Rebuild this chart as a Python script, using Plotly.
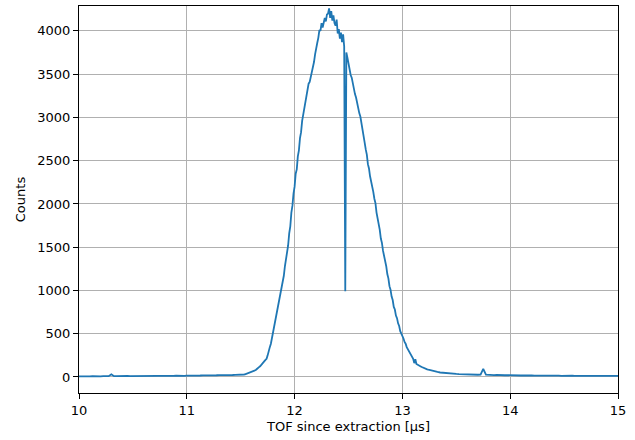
import numpy as np
import plotly.graph_objects as go

# Left tail: 10.000 .. 11.475 step 0.025
left_counts = [8, 6, 9, 7, 8, 10, 7, 9, 8, 11, 9, 10, 32, 10, 9, 11, 10, 8, 12, 10,
               11, 9, 12, 11, 13, 10, 12, 14, 11, 13, 12, 14, 13, 15, 12, 14, 15, 13, 16, 14,
               16, 15, 17, 16, 18, 17, 19, 18, 20, 19, 21, 20, 22, 21, 23, 22, 24, 23, 25, 24]

# Peak region: 11.50 .. 13.29 step 0.01
peak_counts = [22, 26, 24, 29, 30, 35, 34, 41, 44, 50,
               54, 62, 66, 76, 81, 92, 99, 114, 124, 142,
               153, 172, 183, 198, 210, 250, 285, 345, 385, 450,
               495, 565, 615, 690, 740, 815, 865, 940, 995, 1095,
               1170, 1280, 1350, 1460, 1520, 1660, 1740, 1900, 1980, 2120,
               2200, 2350, 2400, 2550, 2620, 2760, 2830, 2960, 3030, 3120,
               3160, 3250, 3320, 3390, 3410, 3470, 3500, 3590, 3640, 3730,
               3780, 3860, 3920, 4010, 4000, 4090, 4040, 4120, 4150, 4110,
               4190, 4200, 4260, 4150, 4230, 4120, 4180, 4090, 4060, 4130,
               3970, 4020, 3910, 3980, 3870, 3960, 3820, 990, 3750, 3690,
               3610, 3570, 3490, 3460, 3380, 3340, 3270, 3230, 3160, 3120,
               3050, 3010, 2920, 2860, 2770, 2710, 2630, 2570, 2460, 2410,
               2320, 2270, 2190, 2140, 2060, 2010, 1900, 1840, 1750, 1700,
               1600, 1550, 1460, 1410, 1330, 1280, 1190, 1140, 1050, 1010,
               930, 890, 810, 780, 710, 680, 620, 590, 530, 505,
               465, 445, 405, 385, 345, 325, 295, 285, 250, 240,
               210, 160, 205, 150, 145, 138, 130, 122, 115, 108,
               102, 97, 92, 88, 84, 80, 76, 72, 68, 65]

# Right tail: 13.300 .. 15.000 step 0.025
right_counts = [62, 58, 52, 48, 45, 42, 40, 37, 36, 34, 32, 31, 30, 28, 29, 27, 26, 28, 95, 27,
                24, 25, 22, 24, 21, 22, 20, 21, 19, 20, 18, 19, 17, 19, 16, 18, 17, 16, 18, 15,
                17, 16, 15, 17, 14, 16, 15, 14, 16, 15, 13, 15, 14, 13, 15, 14, 13, 14, 12, 14,
                13, 12, 14, 13, 12, 13, 12, 13, 12]

x_ticks = [10, 11, 12, 13, 14, 15]
y_ticks = [0, 500, 1000, 1500, 2000, 2500, 3000, 3500, 4000]

left_t = 10.0 + 0.025 * np.arange(len(left_counts))
peak_t = 11.5 + 0.01 * np.arange(len(peak_counts))
right_t = 13.3 + 0.025 * np.arange(len(right_counts))

tof = np.concatenate([left_t, peak_t, right_t])
counts = np.array(left_counts + peak_counts + right_counts)

fig = go.Figure()
fig.add_trace(go.Scatter(x=tof, y=counts, mode="lines",
                         line=dict(color="#1f77b4", width=1.8), showlegend=False))

font = dict(family="DejaVu Sans", size=13, color="black")
fig.update_layout(
    width=635, height=440,
    margin=dict(l=79, r=17, t=6, b=47),
    plot_bgcolor="white", paper_bgcolor="white",
    font=font,
)
fig.update_xaxes(range=[10, 15], tickvals=x_ticks, ticktext=[str(v) for v in x_ticks],
                 showgrid=True, gridcolor="#b0b0b0", gridwidth=1,
                 showline=True, linecolor="black", linewidth=1, mirror=True,
                 ticks="outside", ticklen=5, tickcolor="black", zeroline=False,
                 title=dict(text="TOF since extraction [μs]", font=font, standoff=5))
fig.update_yaxes(range=[-185, 4288], tickvals=y_ticks, ticktext=[str(v) for v in y_ticks],
                 showgrid=True, gridcolor="#b0b0b0", gridwidth=1,
                 showline=True, linecolor="black", linewidth=1, mirror=True,
                 ticks="outside", ticklen=5, tickcolor="black", zeroline=False,
                 title=dict(text="Counts", font=font, standoff=8))

fig.write_html("out.html")
